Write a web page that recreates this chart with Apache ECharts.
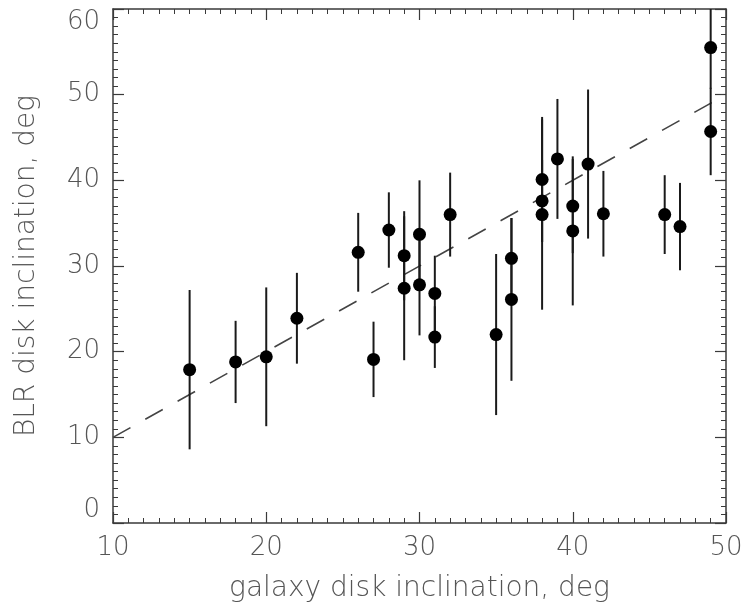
<!DOCTYPE html>
<html>
<head>
<meta charset="utf-8">
<script src="https://cdn.jsdelivr.net/npm/echarts@6/dist/echarts.min.js"></script>
<style>
html,body{margin:0;padding:0;background:#fff;}
#chart{width:748px;height:613px;}
</style>
</head>
<body>
<div id="chart"></div>
<script>
// Data
var galaxyIncl = [15, 18, 20, 22, 26, 27, 28, 29, 29, 30, 30, 31, 31, 32, 35, 36, 36, 38, 38, 38, 39, 40, 40, 41, 42, 46, 47, 49, 49];
var blrIncl    = [17.9, 18.8, 19.4, 23.9, 31.6, 19.1, 34.2, 31.2, 27.4, 33.7, 27.8, 26.8, 21.7, 36.0, 22.0, 30.9, 26.1, 40.1, 37.6, 36.0, 42.5, 37.0, 34.1, 41.9, 36.1, 36.0, 34.6, 55.5, 45.7];
var blrErr     = [9.3, 4.8, 8.1, 5.3, 4.6, 4.4, 4.4, 5.2, 8.4, 6.3, 5.9, 4.4, 3.6, 4.9, 9.4, 4.7, 9.5, 7.3, 4.8, 11.1, 7.0, 5.5, 8.7, 8.7, 5.0, 4.6, 5.1, 4.8, 5.1];
var oneToOneX  = [10, 50];
var oneToOneY  = [10, 50];
var xTicks = [10, 20, 30, 40, 50];
var yTicks = [0, 10, 20, 30, 40, 50, 60];

var points = galaxyIncl.map(function (x, i) { return [x, blrIncl[i]]; });
var errData = galaxyIncl.map(function (x, i) { return [x, blrIncl[i] - blrErr[i], blrIncl[i] + blrErr[i]]; });
var lineData = oneToOneX.map(function (x, i) { return [x, oneToOneY[i]]; });

var FONT = 'DejaVu Sans';
var TXT = '#555';
var AX = '#3a3a3a';

function axisCommon(showLabel) {
  return {
    axisLine: { show: true, onZero: false, lineStyle: { color: AX, width: 1.5 } },
    axisTick: { show: true, inside: true, length: 11, lineStyle: { color: AX, width: 1.2 } },
    minorTick: { show: true, splitNumber: 10, length: 5, lineStyle: { color: AX, width: 1 } },
    splitLine: { show: false },
    axisLabel: { show: showLabel, color: TXT, fontSize: 26, fontFamily: FONT, fontWeight: 200 }
  };
}

var xMain = Object.assign(axisCommon(true), {
  type: 'value', min: xTicks[0], max: xTicks[xTicks.length - 1], interval: 10, position: 'bottom',
  name: 'galaxy disk inclination, deg', nameLocation: 'middle', nameGap: 52,
  nameTextStyle: { color: TXT, fontSize: 28, fontFamily: FONT, fontWeight: 200 }
});
xMain.axisLabel.margin = 12;
var xTop = Object.assign(axisCommon(false), {
  type: 'value', min: xTicks[0], max: xTicks[xTicks.length - 1], interval: 10, position: 'top', gridIndex: 0
});
var yMain = Object.assign(axisCommon(true), {
  type: 'value', min: yTicks[0], max: yTicks[yTicks.length - 1], interval: 10, position: 'left',
  name: 'BLR disk inclination, deg', nameLocation: 'middle', nameGap: 72, nameRotate: 90,
  nameTextStyle: { color: TXT, fontSize: 28, fontFamily: FONT, fontWeight: 200 }
});
yMain.axisLabel.margin = 13;
yMain.axisLabel.verticalAlignMinLabel = 'bottom';
yMain.axisLabel.verticalAlignMaxLabel = 'top';
var yRight = Object.assign(axisCommon(false), {
  type: 'value', min: yTicks[0], max: yTicks[yTicks.length - 1], interval: 10, position: 'right', gridIndex: 0
});

var chart = echarts.init(document.getElementById('chart'), null, { renderer: 'canvas' });
chart.setOption({
  backgroundColor: '#fff',
  animation: false,
  grid: { left: 113, top: 9, right: 22, bottom: 90, containLabel: false },
  xAxis: [xMain, xTop],
  yAxis: [yMain, yRight],
  series: [
    {
      type: 'line', data: lineData, xAxisIndex: 0, yAxisIndex: 0,
      showSymbol: false, symbol: 'none',
      lineStyle: { color: '#444', width: 1.6, type: [20, 17] },
      z: 2
    },
    {
      type: 'custom', data: errData, xAxisIndex: 0, yAxisIndex: 0, clip: true,
      renderItem: function (params, api) {
        var x = api.value(0);
        var p1 = api.coord([x, api.value(1)]);
        var p2 = api.coord([x, api.value(2)]);
        return {
          type: 'line',
          shape: { x1: p1[0], y1: p1[1], x2: p2[0], y2: p2[1] },
          style: { stroke: '#1a1a1a', lineWidth: 2 }
        };
      },
      z: 3
    },
    {
      type: 'scatter', data: points, xAxisIndex: 0, yAxisIndex: 0,
      symbol: 'circle', symbolSize: 13,
      itemStyle: { color: '#000', opacity: 1 },
      z: 4
    }
  ]
});
</script>
</body>
</html>
